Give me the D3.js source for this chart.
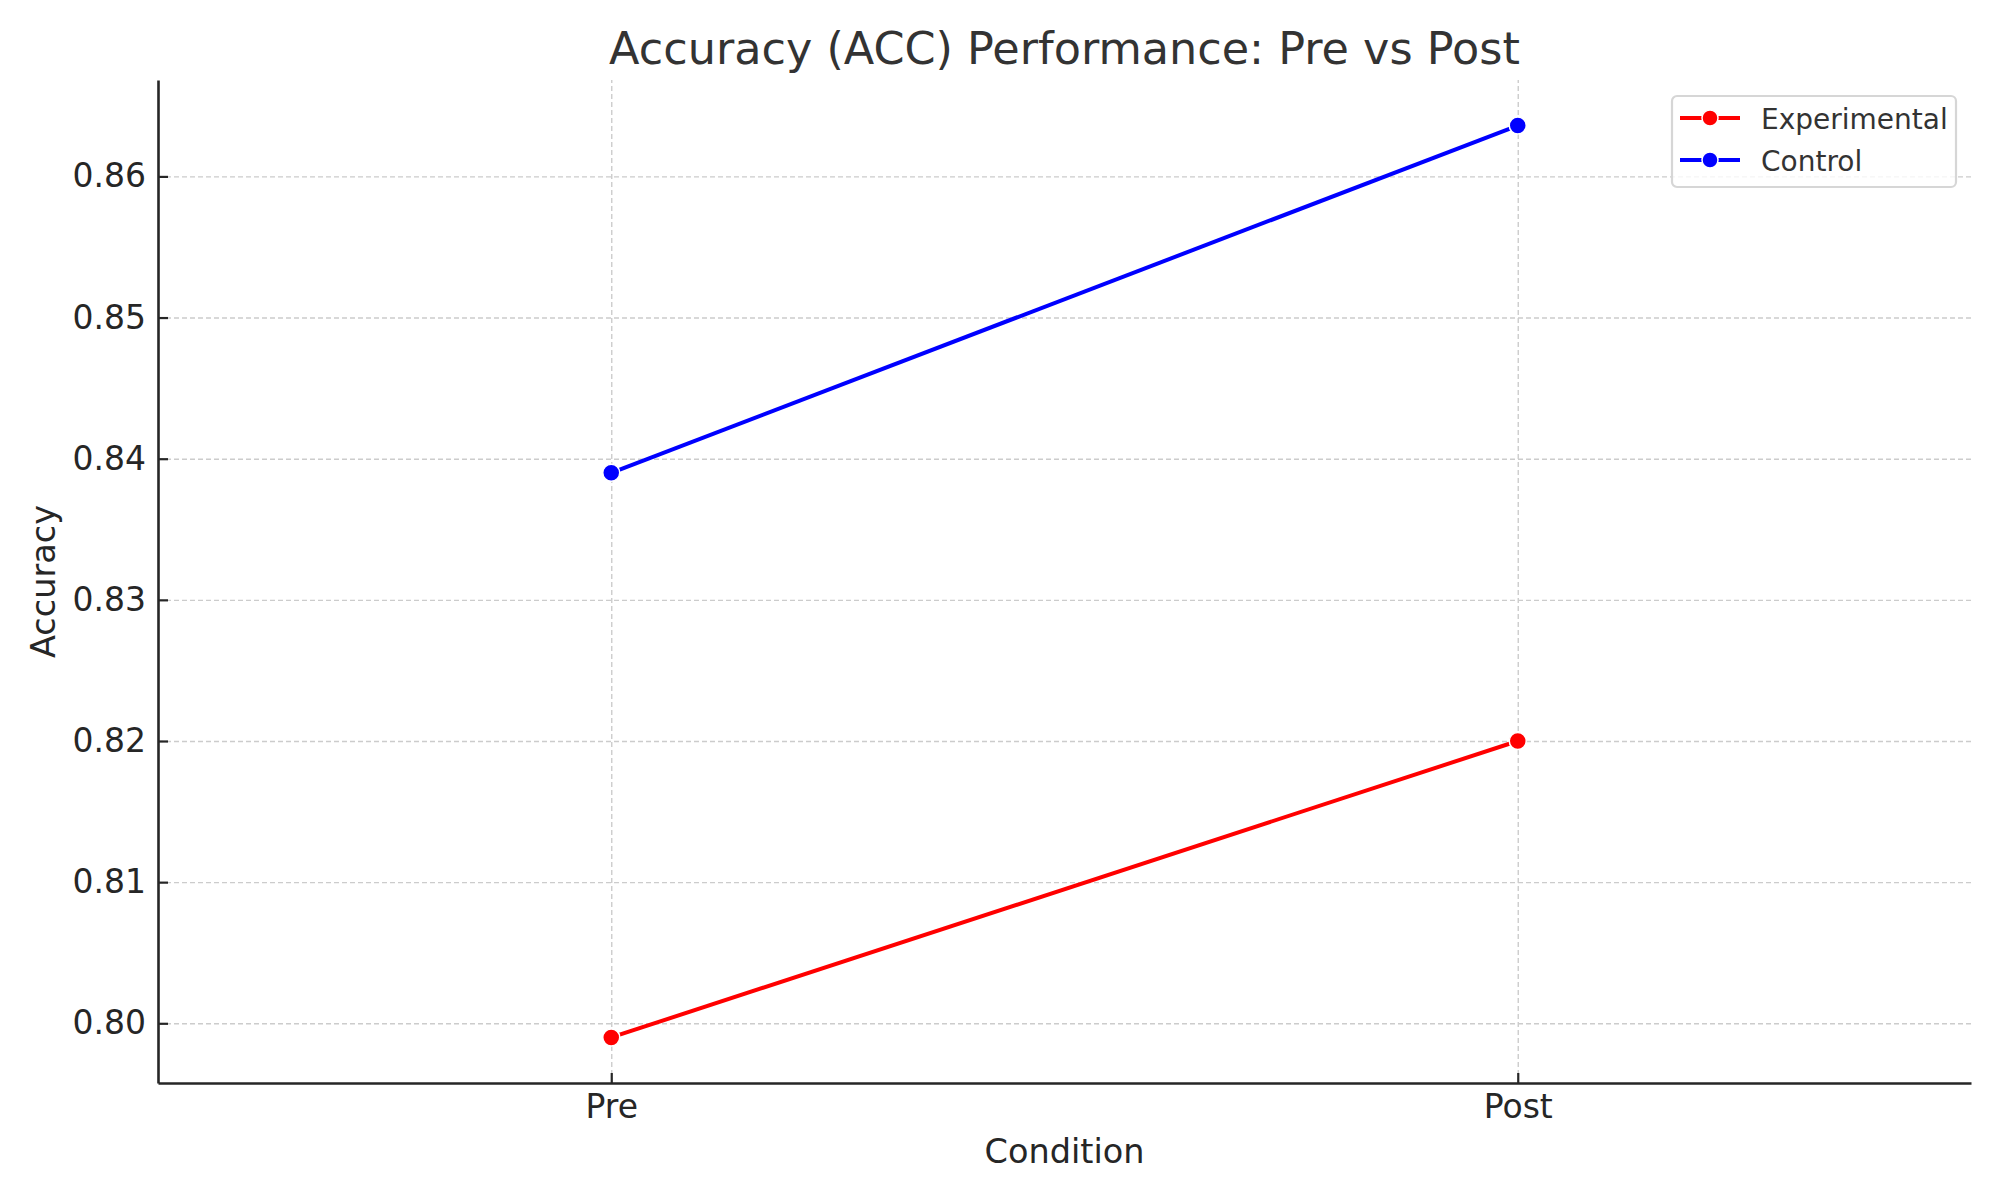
<!DOCTYPE html>
<html lang="en">
<head>
  <meta charset="UTF-8">
  <title>Accuracy (ACC) Performance: Pre vs Post</title>
  <script src="https://d3js.org/d3.v7.min.js"></script>
  <style>
    body { margin: 0; background: #fff; }
    svg { font-family: "DejaVu Sans", sans-serif; display: block; }
    .grid line { stroke: #cccccc; stroke-width: 1.4; stroke-dasharray: 5,3; }
    .grid .domain { display: none; }
  </style>
</head>
<body>
  <svg width="2000" height="1200"></svg>
  <script>
    // Data
    const conditions = ["Pre", "Post"];
    const seriesNames = ["Experimental", "Control"];
    const experimental = [0.799, 0.820];
    const control = [0.839, 0.8636];
    const yTicks = [0.80, 0.81, 0.82, 0.83, 0.84, 0.85, 0.86];
    const colors = ["#ff0000", "#0000ff"];

    const svg = d3.select("svg");
    svg.append("rect").attr("width", 2000).attr("height", 1200).attr("fill", "#fff");

    const margin = {top: 80, right: 29, bottom: 117, left: 158};
    const width = 2000, height = 1200;

    // Matplotlib-style 5% padding on both axes
    const idx = d3.range(conditions.length);
    const x = d3.scaleLinear()
      .domain([-0.5, conditions.length - 0.5])
      .range([margin.left, width - margin.right]);

    const allVals = experimental.concat(control);
    const [ymin, ymax] = d3.extent(allVals);
    const pad = (ymax - ymin) * 0.05;
    const y = d3.scaleLinear()
      .domain([ymin - pad, ymax + pad])
      .range([height - margin.bottom, margin.top]);

    // Grid
    svg.append("g")
      .attr("class", "grid")
      .attr("transform", `translate(${margin.left},0)`)
      .call(d3.axisLeft(y).tickValues(yTicks)
        .tickSize(-(width - margin.left - margin.right)).tickFormat(""));

    svg.append("g")
      .attr("class", "grid")
      .attr("transform", `translate(0,${height - margin.bottom})`)
      .call(d3.axisBottom(x).tickValues(idx)
        .tickSize(-(height - margin.top - margin.bottom)).tickFormat(""));

    // Axes (ticks point inward, as in the original)
    const yAxis = svg.append("g")
      .attr("transform", `translate(${margin.left},0)`)
      .call(d3.axisLeft(y).tickValues(yTicks).tickSizeInner(-10).tickSizeOuter(0)
        .tickPadding(12).tickFormat(d3.format(".2f")));

    const xAxis = svg.append("g")
      .attr("transform", `translate(0,${height - margin.bottom})`)
      .call(d3.axisBottom(x).tickValues(idx).tickSizeInner(-10).tickSizeOuter(0)
        .tickPadding(12).tickFormat(i => conditions[i]));

    [yAxis, xAxis].forEach(ax => {
      ax.attr("font-family", "DejaVu Sans").attr("font-size", 33);
      ax.select(".domain").attr("stroke", "#262626").attr("stroke-width", 2.6);
      ax.selectAll(".tick line").attr("stroke", "#262626").attr("stroke-width", 2.2);
      ax.selectAll(".tick text").attr("fill", "#262626");
    });

    // Lines and markers
    const series = [experimental, control];
    const line = d3.line().x((d, i) => x(i)).y(d => y(d));

    series.forEach((vals, s) => {
      svg.append("path")
        .datum(vals)
        .attr("fill", "none")
        .attr("stroke", colors[s])
        .attr("stroke-width", 4)
        .attr("d", line);

      svg.selectAll(null)
        .data(vals)
        .enter()
        .append("circle")
        .attr("cx", (d, i) => x(i))
        .attr("cy", d => y(d))
        .attr("r", 8.5)
        .attr("fill", colors[s])
        .attr("stroke", "#fff")
        .attr("stroke-width", 1.5);
    });

    // Title and axis labels
    svg.append("text")
      .attr("x", (margin.left + width - margin.right) / 2)
      .attr("y", 64)
      .attr("text-anchor", "middle")
      .attr("fill", "#333")
      .style("font-size", "44.5px")
      .text("Accuracy (ACC) Performance: Pre vs Post");

    svg.append("text")
      .attr("x", (margin.left + width - margin.right) / 2)
      .attr("y", 1163)
      .attr("text-anchor", "middle")
      .attr("fill", "#262626")
      .style("font-size", "33.5px")
      .text("Condition");

    svg.append("text")
      .attr("transform", `translate(55,${(margin.top + height - margin.bottom) / 2}) rotate(-90)`)
      .attr("text-anchor", "middle")
      .attr("fill", "#262626")
      .style("font-size", "33.5px")
      .text("Accuracy");

    // Legend
    const legend = svg.append("g").attr("transform", "translate(1672,96)");
    legend.append("rect")
      .attr("width", 284).attr("height", 91)
      .attr("rx", 5).attr("ry", 5)
      .attr("fill", "#fff").attr("fill-opacity", 0.8)
      .attr("stroke", "#d6d6d6").attr("stroke-width", 2.2);

    seriesNames.forEach((name, s) => {
      const row = legend.append("g").attr("transform", `translate(0,${22 + s * 42})`);
      row.append("line")
        .attr("x1", 8).attr("x2", 68)
        .attr("stroke", colors[s]).attr("stroke-width", 4);
      row.append("circle")
        .attr("cx", 38).attr("r", 8)
        .attr("fill", colors[s]).attr("stroke", "#fff").attr("stroke-width", 1.5);
      row.append("text")
        .attr("x", 89).attr("y", 10.5)
        .attr("fill", "#333")
        .style("font-size", "28px")
        .text(name);
    });
  </script>
</body>
</html>
